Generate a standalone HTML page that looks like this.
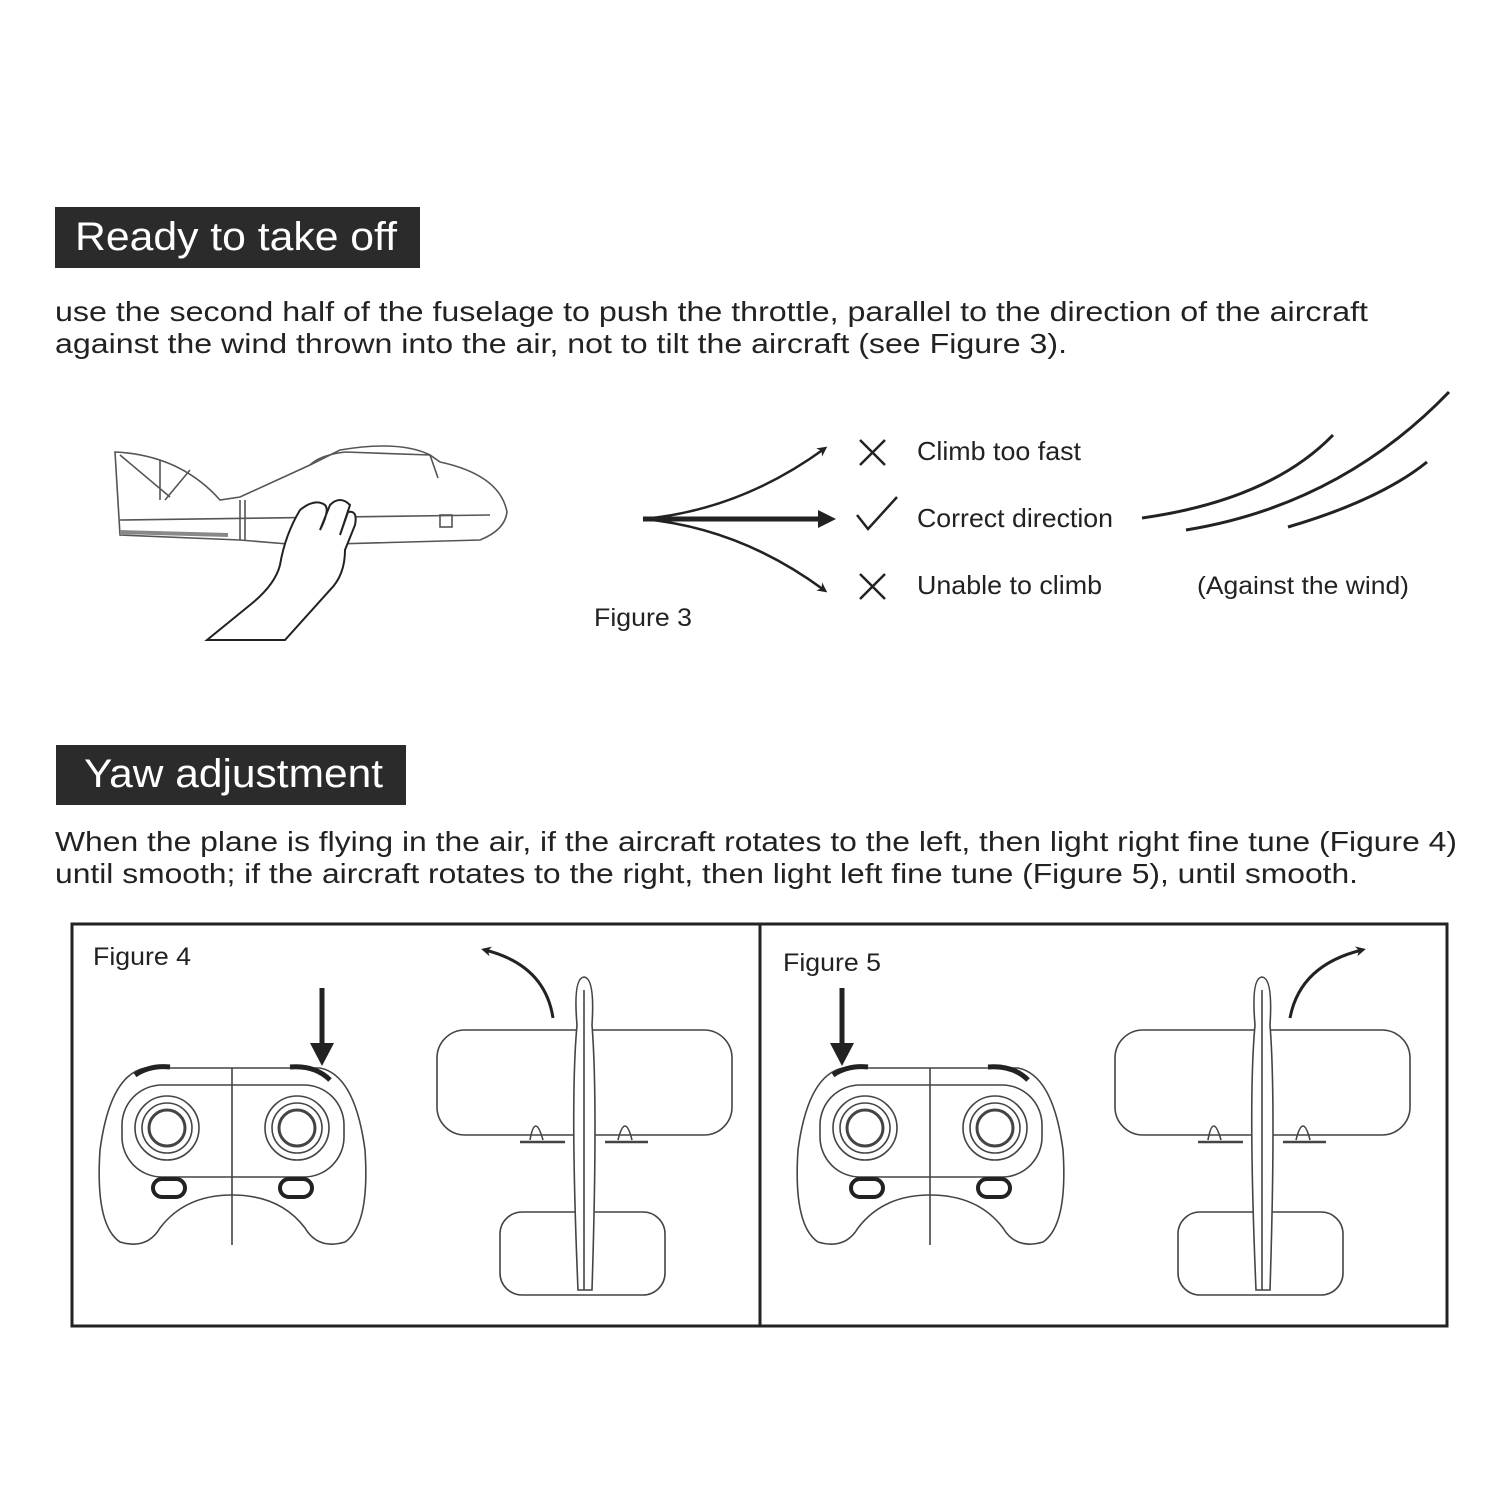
<!DOCTYPE html>
<html><head><meta charset="utf-8"><style>
html,body{margin:0;padding:0;background:#fff}
svg{display:block}
text{font-family:"Liberation Sans",Arial,sans-serif;fill:#222}
</style></head><body>
<svg width="1500" height="1500" viewBox="0 0 1500 1500" xmlns="http://www.w3.org/2000/svg">
<defs>
<marker id="ah" markerWidth="10" markerHeight="10" refX="6" refY="5" orient="auto" markerUnits="userSpaceOnUse"><path d="M0,0 L10,5 L0,10 L3,5 z" fill="#222"/></marker>
<marker id="ahb" markerWidth="18" markerHeight="18" refX="10" refY="9" orient="auto" markerUnits="userSpaceOnUse"><path d="M0,0 L18,9 L0,18 z" fill="#222"/></marker>
</defs>
<rect x="55" y="207" width="365" height="61" fill="#2b2b2b"/>
<text x="75" y="250" font-size="40" textLength="322" lengthAdjust="spacingAndGlyphs" style="fill:#fff">Ready to take off</text>
<text x="55" y="321" font-size="28" textLength="1313" lengthAdjust="spacingAndGlyphs">use the second half of the fuselage to push the throttle, parallel to the direction of the aircraft</text>
<text x="55" y="353" font-size="28" textLength="1012" lengthAdjust="spacingAndGlyphs">against the wind thrown into the air, not to tilt the aircraft (see Figure 3).</text>

<g fill="none" stroke="#555" stroke-width="1.6">
<path d="M115,452 L120,535 L240,540 L300,545 L480,540 Q505,530 507,512 Q500,475 440,462 L430,455 Q400,440 340,450 L310,465 L240,497 L220,500 Q180,455 115,452 z"/>
<path d="M120,520 L490,515"/>
<path d="M240,500 L240,540 M245,500 L245,540"/>
<path d="M120,455 L170,497 M160,460 L160,500 M190,470 L165,500"/>
<path d="M310,465 Q320,455 345,452 L430,455 L438,478"/>
<rect x="440" y="515" width="12" height="12"/>
<path d="M120,532 L228,535" stroke-width="4" stroke="#888"/>
</g>
<path d="M207,640 L250,605 Q275,585 280,565 Q285,535 300,510 Q315,498 325,505 Q330,510 320,530 L330,505 Q340,495 350,505 L340,535 L348,512 Q358,510 355,525 L345,550 Q345,575 330,590 L285,640 z" fill="#fff" stroke="#222" stroke-width="2"/>

<path d="M643,519 Q740,510 824,449" fill="none" stroke="#222" stroke-width="2.5" marker-end="url(#ah)"/>
<path d="M643,519 Q740,528 824,590" fill="none" stroke="#222" stroke-width="2.5" marker-end="url(#ah)"/>
<path d="M643,519 L828,519" fill="none" stroke="#222" stroke-width="5" marker-end="url(#ahb)"/>
<path d="M860,440 L885,465 M885,440 L860,465 M860,574 L885,599 M885,574 L860,599" stroke="#222" stroke-width="2.5"/>
<path d="M857,515 L868,529 L897,497" fill="none" stroke="#222" stroke-width="2.5"/>
<text x="917" y="460" font-size="26" textLength="164" lengthAdjust="spacingAndGlyphs">Climb too fast</text>
<text x="917" y="527" font-size="26" textLength="196" lengthAdjust="spacingAndGlyphs">Correct direction</text>
<text x="917" y="594" font-size="26" textLength="185" lengthAdjust="spacingAndGlyphs">Unable to climb</text>
<text x="594" y="626" font-size="25" textLength="98" lengthAdjust="spacingAndGlyphs">Figure 3</text>
<text x="1197" y="594" font-size="25" textLength="212" lengthAdjust="spacingAndGlyphs">(Against the wind)</text>
<g fill="none" stroke="#222" stroke-width="3">
<path d="M1142,518 Q1270,500 1333,435"/>
<path d="M1186,530 Q1340,505 1449,392"/>
<path d="M1288,527 Q1380,500 1427,462"/>
</g>

<rect x="56" y="745" width="350" height="60" fill="#2b2b2b"/>
<text x="84" y="787" font-size="40" textLength="299" lengthAdjust="spacingAndGlyphs" style="fill:#fff">Yaw adjustment</text>
<text x="55" y="851" font-size="28" textLength="1402" lengthAdjust="spacingAndGlyphs">When the plane is flying in the air, if the aircraft rotates to the left, then light right fine tune (Figure 4)</text>
<text x="55" y="883" font-size="28" textLength="1303" lengthAdjust="spacingAndGlyphs">until smooth; if the aircraft rotates to the right, then light left fine tune (Figure 5), until smooth.</text>

<rect x="72" y="924" width="1375" height="402" fill="none" stroke="#222" stroke-width="3"/>
<line x1="760" y1="924" x2="760" y2="1326" stroke="#222" stroke-width="3"/>
<text x="93" y="965" font-size="25" textLength="98" lengthAdjust="spacingAndGlyphs">Figure 4</text>
<text x="783" y="971" font-size="25" textLength="98" lengthAdjust="spacingAndGlyphs">Figure 5</text>

<g id="ctl" fill="none" stroke="#444" stroke-width="1.6">
<path d="M145,1068 L320,1068 Q355,1075 365,1150 Q370,1225 345,1242 Q318,1250 305,1228 Q280,1195 232,1195 Q185,1195 160,1228 Q147,1250 120,1242 Q95,1225 100,1150 Q110,1075 145,1068 z"/>
<rect x="122" y="1085" width="222" height="92" rx="40"/>
<line x1="232" y1="1068" x2="232" y2="1245"/>
<circle cx="167" cy="1128" r="32"/><circle cx="167" cy="1128" r="25"/><circle cx="167" cy="1128" r="18" stroke-width="3"/>
<circle cx="297" cy="1128" r="32"/><circle cx="297" cy="1128" r="25"/><circle cx="297" cy="1128" r="18" stroke-width="3"/>
<rect x="153" y="1179" width="32" height="18" rx="9" stroke="#222" stroke-width="4"/>
<rect x="280" y="1179" width="32" height="18" rx="9" stroke="#222" stroke-width="4"/>
<path d="M135,1075 Q150,1065 170,1067 M290,1067 Q315,1065 330,1080" stroke="#222" stroke-width="5"/>
</g>
<path d="M322,988 L322,1045" stroke="#222" stroke-width="5"/><path d="M310,1043 L334,1043 L322,1066 z" fill="#222"/>

<g id="pl" fill="none" stroke="#444" stroke-width="1.6">
<rect x="437" y="1030" width="295" height="105" rx="28"/>
<rect x="500" y="1212" width="165" height="83" rx="22"/>
<path d="M577,1025 Q573,978 584,977 Q595,978 592,1025 Q598,1100 592,1290 L578,1290 Q570,1100 577,1025 z" fill="#fff"/>
<line x1="584" y1="990" x2="584" y2="1290"/>
<path d="M520,1142 L565,1142 M605,1142 L648,1142" stroke-width="2.5"/>
<path d="M530,1140 Q535,1112 543,1140 M618,1140 Q625,1112 632,1140"/>
</g>
<path d="M553,1018 Q545,965 485,950" fill="none" stroke="#222" stroke-width="3" marker-end="url(#ah)"/>

<use href="#ctl" x="698" y="0"/>
<path d="M842,988 L842,1045" stroke="#222" stroke-width="5"/><path d="M830,1043 L854,1043 L842,1066 z" fill="#222"/>
<use href="#pl" x="678" y="0"/>
<path d="M1290,1018 Q1300,965 1362,950" fill="none" stroke="#222" stroke-width="3" marker-end="url(#ah)"/>
</svg>
</body></html>
